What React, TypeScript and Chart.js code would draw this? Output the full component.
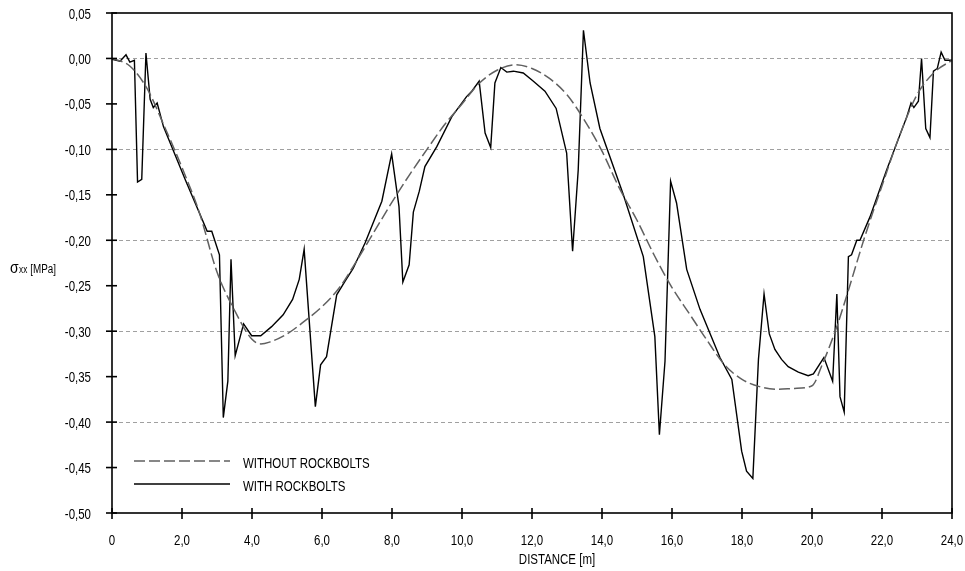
import React, { useEffect, useRef } from 'react';
import { Chart, registerables } from 'chart.js';

Chart.register(...registerables);

const WITH_X = [0, 0.23, 0.4, 0.51, 0.64, 0.73, 0.85, 0.97, 1.09, 1.18, 1.29, 1.47, 2.1, 2.72, 2.85, 3.07, 3.18, 3.31, 3.4, 3.52, 3.76, 3.99, 4.25, 4.56, 4.89, 5.16, 5.35, 5.49, 5.81, 5.96, 6.13, 6.42, 6.66, 6.89, 7.23, 7.71, 7.99, 8.2, 8.31, 8.49, 8.61, 8.78, 8.94, 9.28, 9.71, 10.13, 10.28, 10.49, 10.66, 10.82, 10.94, 11.11, 11.28, 11.47, 11.75, 12.04, 12.37, 12.69, 12.99, 13.16, 13.32, 13.47, 13.66, 13.94, 14.61, 15.18, 15.51, 15.64, 15.8, 15.96, 16.13, 16.42, 16.8, 17.37, 17.71, 17.99, 18.13, 18.31, 18.47, 18.63, 18.78, 18.94, 19.13, 19.32, 19.61, 19.89, 20.04, 20.34, 20.59, 20.71, 20.8, 20.92, 21.04, 21.13, 21.28, 21.37, 21.66, 22.13, 22.71, 22.83, 22.91, 23.04, 23.13, 23.25, 23.37, 23.47, 23.58, 23.69, 23.8, 24.0];
const WITH_Y = [-0.001, -0.003, 0.004, -0.004, -0.002, -0.136, -0.133, 0.006, -0.045, -0.054, -0.049, -0.075, -0.134, -0.19, -0.19, -0.216, -0.395, -0.355, -0.221, -0.327, -0.292, -0.305, -0.305, -0.295, -0.282, -0.265, -0.243, -0.21, -0.383, -0.337, -0.328, -0.26, -0.245, -0.231, -0.203, -0.157, -0.105, -0.163, -0.246, -0.227, -0.169, -0.146, -0.119, -0.097, -0.064, -0.042, -0.036, -0.025, -0.082, -0.098, -0.027, -0.01, -0.015, -0.014, -0.016, -0.025, -0.036, -0.055, -0.104, -0.212, -0.123, 0.031, -0.027, -0.077, -0.15, -0.218, -0.306, -0.414, -0.333, -0.135, -0.159, -0.232, -0.276, -0.329, -0.353, -0.432, -0.454, -0.462, -0.331, -0.259, -0.303, -0.32, -0.331, -0.339, -0.345, -0.349, -0.347, -0.329, -0.355, -0.259, -0.372, -0.389, -0.218, -0.216, -0.2, -0.2, -0.174, -0.123, -0.064, -0.049, -0.054, -0.047, 0.0, -0.077, -0.087, -0.014, -0.011, 0.007, -0.002, -0.002];

const WITHOUT_X = [0, 0.5, 1.0, 1.5, 2.0, 2.5, 3.0, 3.5, 4.0, 4.25, 4.5, 5.0, 5.5, 6.0, 6.5, 7.0, 7.5, 8.0, 8.5, 9.0, 9.5, 10.0, 10.5, 11.0, 11.5, 12.0, 12.5, 13.0, 13.5, 14.0, 14.5, 15.0, 15.5, 16.0, 16.5, 17.0, 17.5, 18.0, 18.5, 19.0, 19.5, 20.0, 20.3, 20.7, 21.0, 21.5, 22.0, 22.5, 23.0, 23.5, 24.0];
const WITHOUT_Y = [0, -0.008, -0.033, -0.075, -0.12, -0.17, -0.235, -0.277, -0.309, -0.314, -0.312, -0.303, -0.289, -0.273, -0.252, -0.222, -0.19, -0.158, -0.128, -0.1, -0.073, -0.05, -0.027, -0.013, -0.007, -0.011, -0.022, -0.04, -0.068, -0.102, -0.143, -0.178, -0.217, -0.252, -0.281, -0.31, -0.337, -0.353, -0.361, -0.364, -0.363, -0.36, -0.336, -0.296, -0.26, -0.197, -0.14, -0.085, -0.04, -0.015, -0.002];

const SERIES_LABELS = ['WITHOUT ROCKBOLTS', 'WITH ROCKBOLTS'];
const X_TICKS = [0, 2, 4, 6, 8, 10, 12, 14, 16, 18, 20, 22, 24];
const Y_TICKS = [0.05, 0, -0.05, -0.1, -0.15, -0.2, -0.25, -0.3, -0.35, -0.4, -0.45, -0.5];
const Y_GRID = [0, -0.1, -0.2, -0.3, -0.4];
const X_TITLE = 'DISTANCE [m]';
const Y_TITLE_MAIN = 'σ';
const Y_TITLE_SUB = 'xx';
const Y_TITLE_UNIT = '[MPa]';

const FONT = "'Liberation Sans', Arial, sans-serif";
const SQUEEZE = 0.82;

const fmtX = (v: number) => (v === 0 ? '0' : v.toFixed(1).replace('.', ','));
const fmtY = (v: number) => {
  const r = Math.abs(v) < 1e-9 ? 0 : v;
  return r.toFixed(2).replace('.', ',');
};

function txt(ctx: CanvasRenderingContext2D, s: string, x: number, y: number, align: CanvasTextAlign, size: number) {
  ctx.save();
  ctx.translate(x, y);
  ctx.scale(SQUEEZE, 1);
  ctx.font = `${size}px ${FONT}`;
  ctx.fillStyle = '#000';
  ctx.textAlign = align;
  ctx.textBaseline = 'alphabetic';
  ctx.fillText(s, 0, 0);
  const w = ctx.measureText(s).width * SQUEEZE;
  ctx.restore();
  return w;
}

const decorPlugin = {
  id: 'decor',
  beforeDatasetsDraw(chart: any) {
    const { ctx, chartArea: a, scales } = chart;
    const y = scales.y;
    ctx.save();
    ctx.strokeStyle = '#a0a0a0';
    ctx.lineWidth = 1;
    ctx.setLineDash([4, 3]);
    Y_GRID.forEach((v) => {
      const py = Math.round(y.getPixelForValue(v)) + 0.5;
      ctx.beginPath();
      ctx.moveTo(a.left, py);
      ctx.lineTo(a.right, py);
      ctx.stroke();
    });
    ctx.restore();
  },
  afterDraw(chart: any) {
    const { ctx, chartArea: a, scales } = chart;
    const x = scales.x;
    const y = scales.y;
    ctx.save();
    ctx.strokeStyle = '#000';
    ctx.lineWidth = 1.6;
    ctx.setLineDash([]);
    ctx.strokeRect(a.left, a.top, a.right - a.left, a.bottom - a.top);
    Y_TICKS.forEach((v) => {
      const py = y.getPixelForValue(v);
      ctx.beginPath();
      ctx.moveTo(a.left - 6, py);
      ctx.lineTo(a.left + 5, py);
      ctx.stroke();
      txt(ctx, fmtY(v), a.left - 21, py + 5.5, 'right', 14);
    });
    X_TICKS.forEach((v) => {
      const px = x.getPixelForValue(v);
      ctx.beginPath();
      ctx.moveTo(px, a.bottom - 5);
      ctx.lineTo(px, a.bottom + 6);
      ctx.stroke();
      txt(ctx, fmtX(v), px, a.bottom + 32, 'center', 14);
    });
    txt(ctx, X_TITLE, 557, 564, 'center', 14);
    let cx = 10;
    cx += txt(ctx, Y_TITLE_MAIN, cx, 273, 'left', 17) + 0.5;
    cx += txt(ctx, Y_TITLE_SUB, cx, 273, 'left', 10) + 3;
    txt(ctx, Y_TITLE_UNIT, cx, 273, 'left', 12);
    const rows = [461, 484];
    chart.data.datasets.forEach((ds: any, i: number) => {
      const ly = rows[i];
      ctx.save();
      ctx.strokeStyle = ds.borderColor;
      ctx.lineWidth = ds.borderWidth;
      ctx.setLineDash(ds.borderDash || []);
      ctx.beginPath();
      ctx.moveTo(134, ly);
      ctx.lineTo(230, ly);
      ctx.stroke();
      ctx.restore();
      txt(ctx, ds.label, 243, ly + 6.5, 'left', 14);
    });
    ctx.restore();
  },
};

export default function App() {
  const ref = useRef<HTMLCanvasElement | null>(null);
  useEffect(() => {
    if (!ref.current) return;
    const chart = new Chart(ref.current, {
      type: 'line',
      data: {
        datasets: [
          {
            label: SERIES_LABELS[0],
            data: WITHOUT_X.map((v, i) => ({ x: v, y: WITHOUT_Y[i] })),
            borderColor: '#606060',
            borderWidth: 1.5,
            borderDash: [11, 4],
            pointRadius: 0,
            cubicInterpolationMode: 'monotone',
            fill: false,
          },
          {
            label: SERIES_LABELS[1],
            data: WITH_X.map((v, i) => ({ x: v, y: WITH_Y[i] })),
            borderColor: '#000000',
            borderWidth: 1.4,
            pointRadius: 0,
            tension: 0,
            fill: false,
          },
        ],
      },
      options: {
        animation: false,
        responsive: false,
        maintainAspectRatio: false,
        layout: { padding: { top: 13, right: 13, left: 0, bottom: 0 } },
        plugins: { legend: { display: false }, tooltip: { enabled: false } },
        scales: {
          x: {
            type: 'linear',
            min: 0,
            max: 24,
            afterBuildTicks: (s: any) => {
              s.ticks = X_TICKS.map((v) => ({ value: v }));
            },
            afterFit: (s: any) => {
              s.height = 58;
            },
            grid: { display: false },
            border: { display: false },
            ticks: { display: false },
          },
          y: {
            type: 'linear',
            min: -0.5,
            max: 0.05,
            afterBuildTicks: (s: any) => {
              s.ticks = Y_TICKS.map((v) => ({ value: v }));
            },
            afterFit: (s: any) => {
              s.width = 112;
            },
            grid: { display: false },
            border: { display: false },
            ticks: { display: false },
          },
        },
      },
      plugins: [decorPlugin],
    });
    return () => chart.destroy();
  }, []);
  return (
    <div style={{ position: 'fixed', left: 0, top: 0, width: 965, height: 571, background: '#fff' }}>
      <canvas ref={ref} width={965} height={571} style={{ display: 'block' }} />
    </div>
  );
}
